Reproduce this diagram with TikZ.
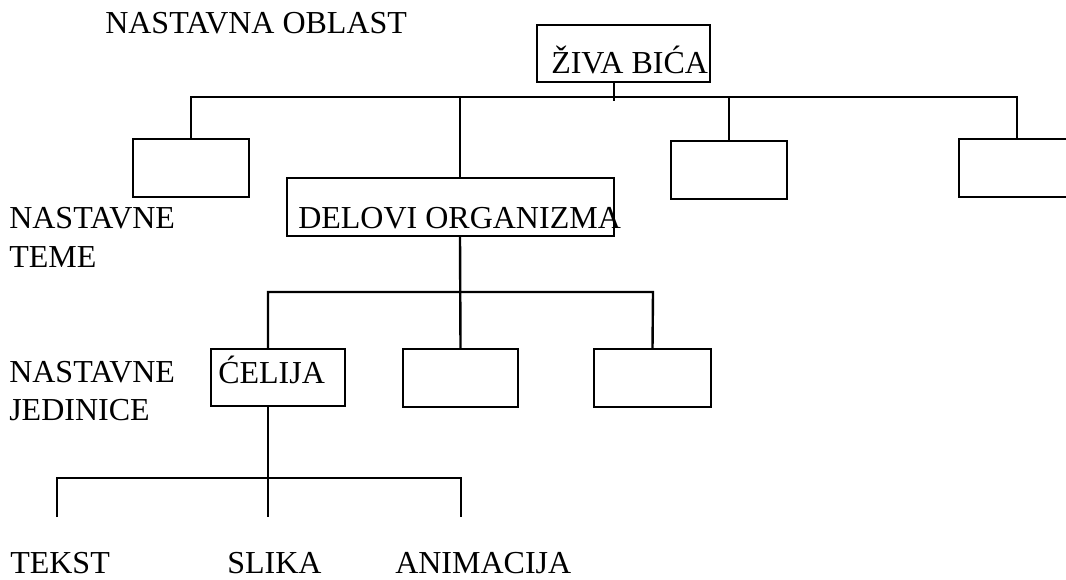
\documentclass[tikz,border=0pt]{standalone}
\usepackage{fontspec}
\setmainfont{Liberation Serif}
\begin{document}
\begin{tikzpicture}[x=0.75pt,y=-0.75pt,
  box/.style={draw,line width=1.5pt,inner sep=0pt,minimum width=#1*0.75pt,minimum height=58*0.75pt},
  box/.default=116,
  lbl/.style={inner sep=0pt,anchor=base west,font=\fontsize{24}{29}\selectfont},
  wire/.style={line width=1.8pt}]
\clip (0,0) rectangle (1066,579);
\useasboundingbox (0,0) rectangle (1066,579);

% headings
\node[lbl] (oblast) at (105,33) {NASTAVNA OBLAST};
\node[lbl] (teme1) at (9,228) {NASTAVNE};
\node[lbl] (teme2) at (9,267) {TEME};
\node[lbl] (jed1) at (9,382) {NASTAVNE};
\node[lbl] (jed2) at (9,420) {JEDINICE};

% level 0
\node[box=173,minimum height=57*0.75pt] (ziva) at (623.5,53.5) {};
\node[lbl] (zivat) at (551,73) {ŽIVA BIĆA};

% level 1
\node[box] (b1) at (191,168) {};
\node[box=327] (delovi) at (450.5,207) {};
\node[lbl] (delovit) at (298,228) {DELOVI ORGANIZMA};
\node[box] (b3) at (729,170) {};
\node[box] (b4) at (1017,168) {};

% level 2
\node[box=134,minimum height=57*0.75pt] (celija) at (278,377.5) {};
\node[lbl] (celijat) at (218,383) {ĆELIJA};
\node[box=115] (b5) at (460.5,378) {};
\node[box=117] (b6) at (652.5,378) {};

% media
\node[lbl] (tekst) at (10,573) {TEKST};
\node[lbl] (slika) at (227,573) {SLIKA};
\node[lbl] (anim) at (395,573) {ANIMACIJA};

% bus lines
\coordinate (bus1w) at (191,97);
\coordinate (bus1e) at (1017,97);
\coordinate (bus1s) at (614,101);
\coordinate (bus1d) at (460,97);
\coordinate (bus2w) at (268,292);
\coordinate (bus2m) at (460,292);
\coordinate (bus2e) at (653,292);
\coordinate (bus3w) at (57,478);
\coordinate (bus3m) at (268,478);
\coordinate (bus3e) at (461,478);
\coordinate (endw) at (57,517);
\coordinate (endm) at (268,517);
\coordinate (ende) at (461,517);

\draw[wire] (ziva.south -| bus1s) -- (bus1s);
\draw[wire] (b1.north) -- (bus1w) -- (bus1e) -- (b4.north);
\draw[wire] (b3.north) -- (b3.north |- bus1e);
\draw[wire] (delovi.north -| bus1d) -- (bus1d);

\draw[wire] (delovi.south -| bus2m) -- (b5.north);
\draw[wire] (celija.north -| bus2w) -- (bus2w) -- (bus2e) -- (b6.north);

\draw[wire] (celija.south -| bus3m) -- (endm);
\draw[wire] (endw) -- (bus3w) -- (bus3e) -- (ende);
\end{tikzpicture}
\end{document}
